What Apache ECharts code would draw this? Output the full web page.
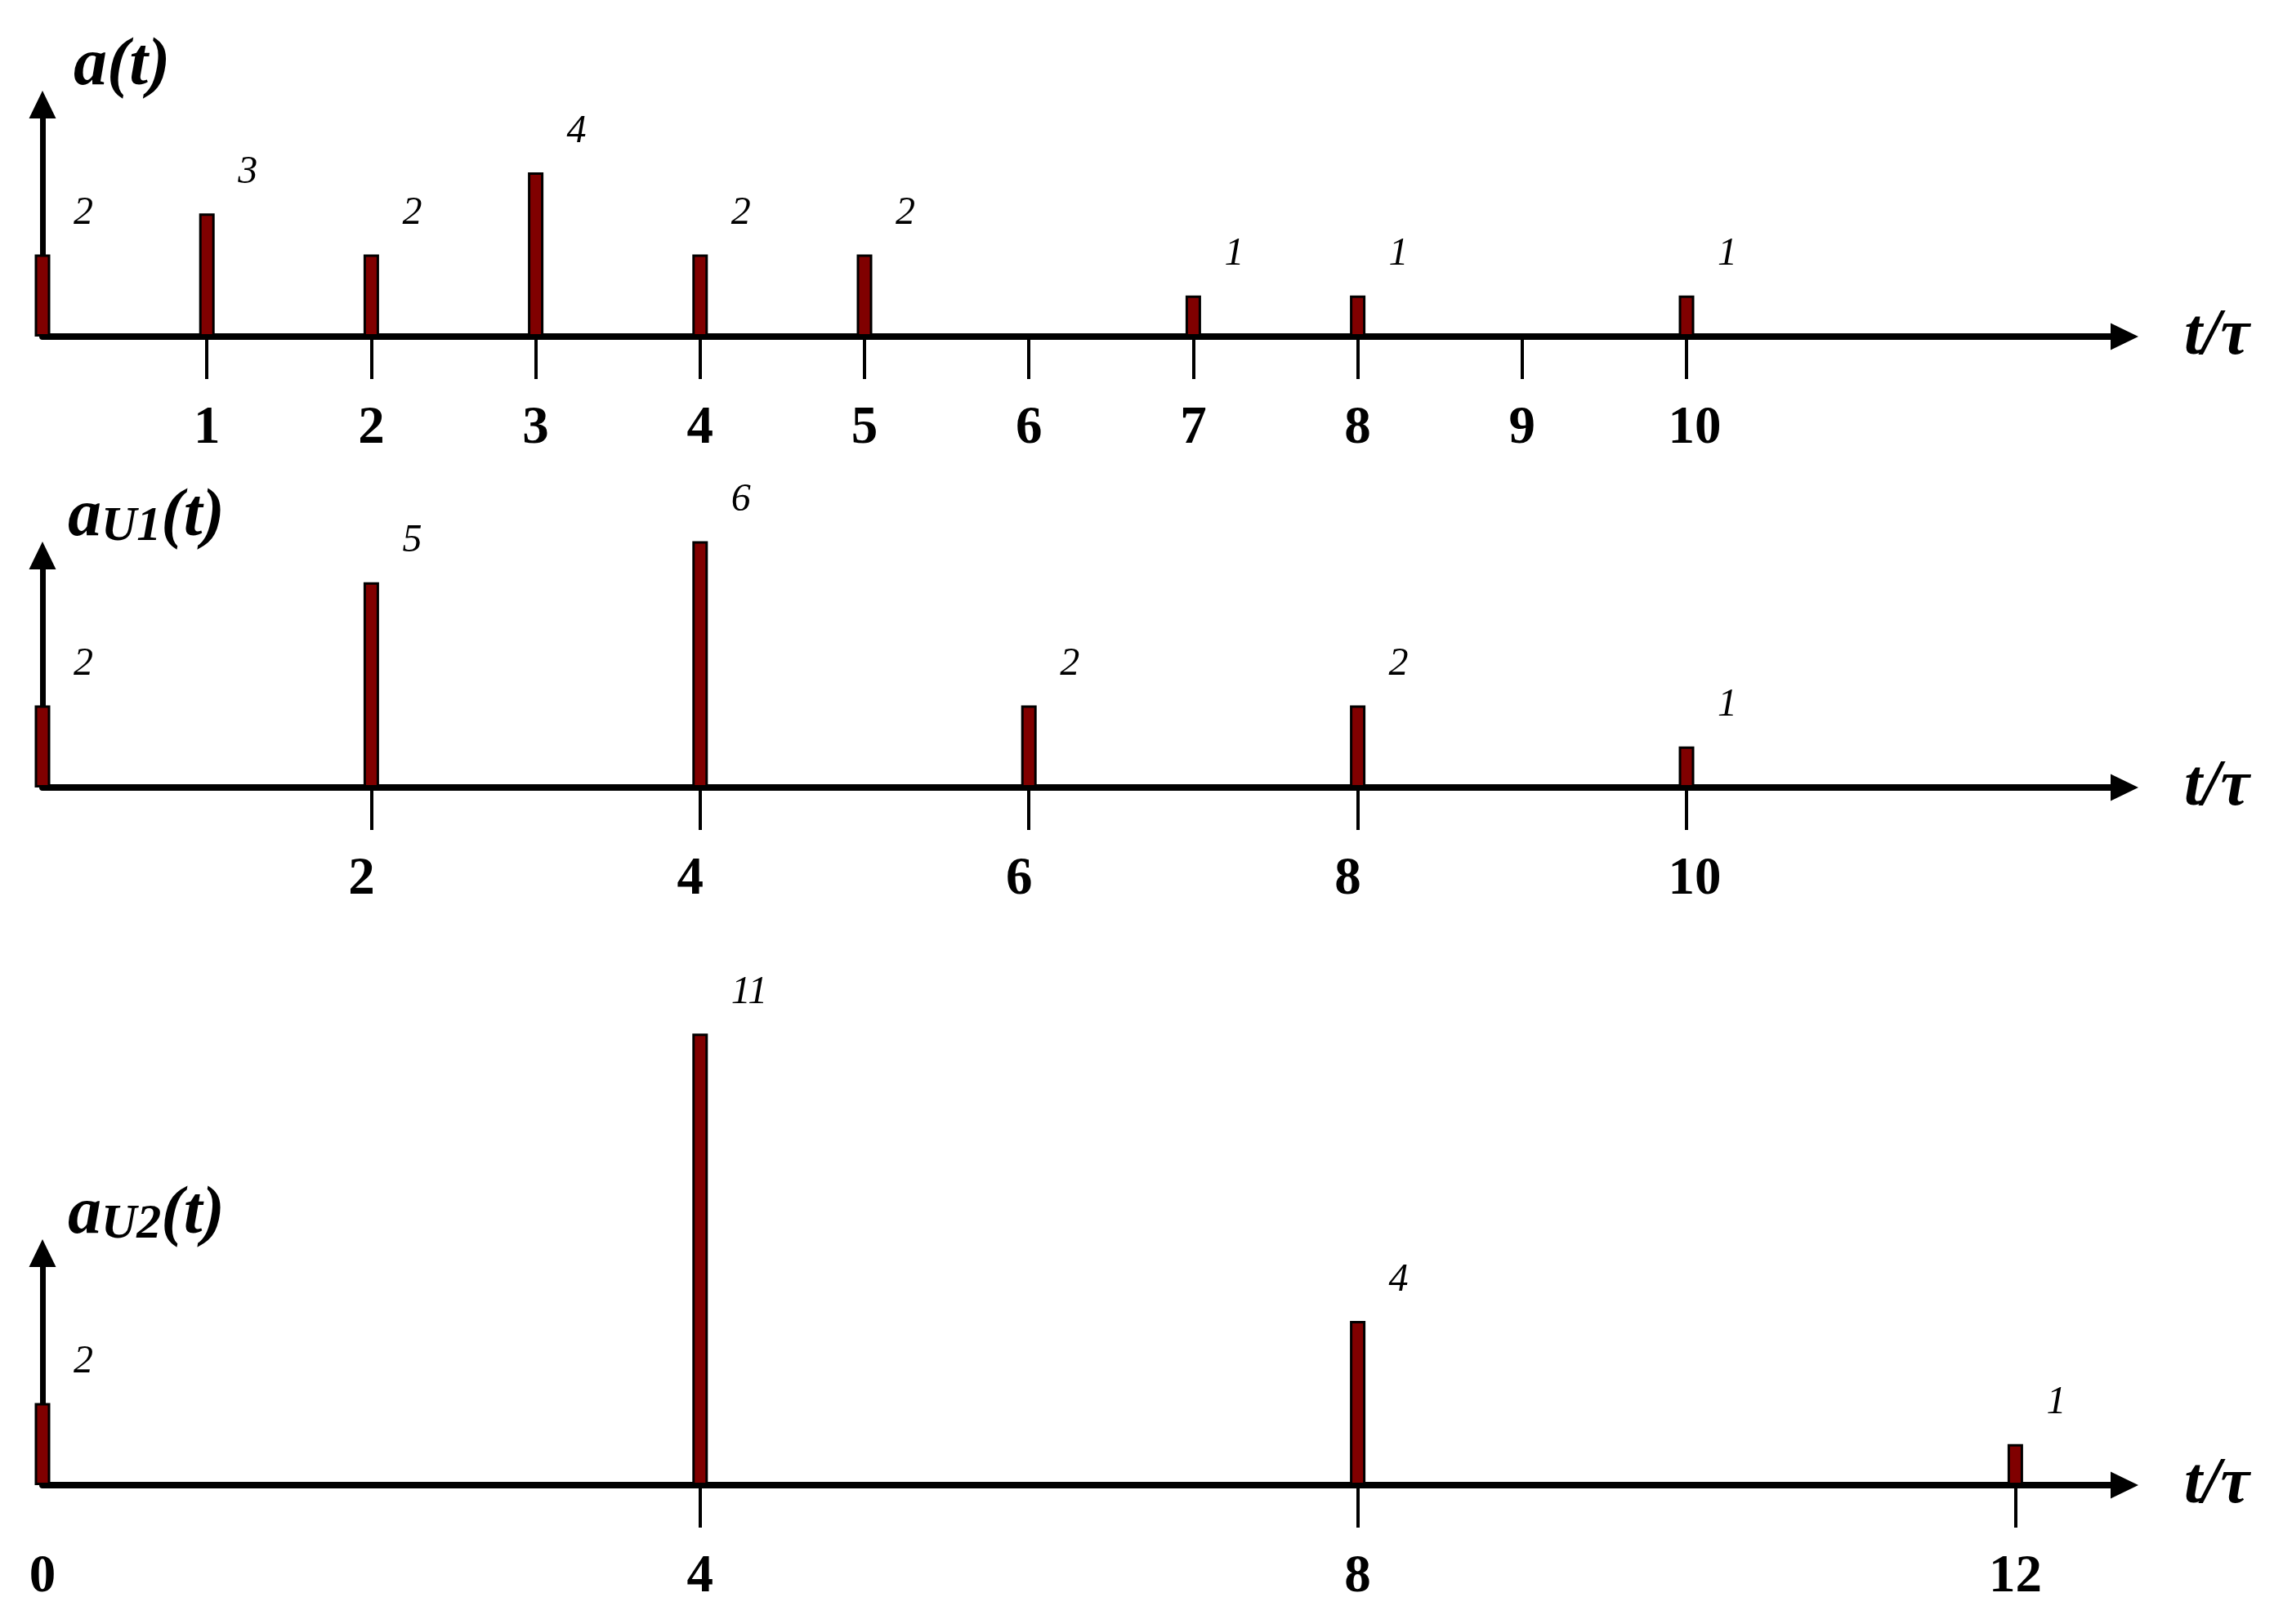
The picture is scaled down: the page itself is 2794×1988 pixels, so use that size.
<!DOCTYPE html>
<html>
<head>
<meta charset="utf-8">
<title>a(t), aU1(t), aU2(t)</title>
<script src="https://cdn.jsdelivr.net/npm/echarts@6/dist/echarts.min.js"></script>
<style>
  html, body { margin: 0; padding: 0; background: #fff; }
  #chart { width: 2794px; height: 1988px; }
</style>
</head>
<body>
<div id="chart"></div>
<script>
  // a(t)
  var tA = [0, 1, 2, 3, 4, 5, 7, 8, 10];
  var valA = [2, 3, 2, 4, 2, 2, 1, 1, 1];
  var ticksA = [1, 2, 3, 4, 5, 6, 7, 8, 9, 10];

  // aU1(t)
  var tU1 = [0, 2, 4, 6, 8, 10];
  var valU1 = [2, 5, 6, 2, 2, 1];
  var ticksU1 = [2, 4, 6, 8, 10];

  // aU2(t)
  var tU2 = [0, 4, 8, 12];
  var valU2 = [2, 11, 4, 1];
  var ticksU2 = [4, 8, 12];
  var labelsU2 = [0, 4, 8, 12];

  var SERIF = "'Liberation Serif', 'Times New Roman', serif";
  var axisY = [412, 964, 1818];   // x axis line positions
  var gridH = 284;
  var plotLeft = 52, plotW = 2548;
  var xMax = plotW / 201.2;
  var yMax = gridH / 50.25;

  function pairs(ts, vs) {
    return ts.map(function (t, i) { return [t, vs[i]]; });
  }

  // small hand shifts of tick labels like in the original figure
  function tickFmt(v) {
    var s = String(v);
    return s.length > 1 ? '{w|' + s + '}' : '{d|' + s + '}';
  }
  function tickRich(shiftOne, shiftTwo) {
    function pad(sh) { return sh >= 0 ? [0, 0, 0, 2 * sh] : [0, -2 * sh, 0, 0]; }
    var base = { fontFamily: SERIF, fontWeight: 'bold', fontSize: 65, color: '#000' };
    return {
      d: Object.assign({ padding: pad(shiftOne) }, base),
      w: Object.assign({ padding: pad(shiftTwo) }, base)
    };
  }

  function makeX(idx, ticks, labels, shiftOne, shiftTwo) {
    return {
      type: 'value', gridIndex: idx, min: 0, max: xMax,
      name: 't/τ', nameLocation: 'end', nameGap: 73,
      nameTextStyle: { fontFamily: SERIF, fontWeight: 'bold', fontStyle: 'italic', fontSize: 80, color: '#000', align: 'left', verticalAlign: 'middle' },
      axisLine: { show: true, symbol: ['none', 'triangle'], symbolSize: [33, 34], lineStyle: { color: '#000', width: 8 } },
      axisTick: { show: true, customValues: ticks, length: 52, lineStyle: { color: '#000', width: 4 } },
      axisLabel: {
        show: true, customValues: labels, margin: 113, verticalAlign: 'middle',
        formatter: tickFmt, rich: tickRich(shiftOne, shiftTwo),
        fontFamily: SERIF, fontWeight: 'bold', fontSize: 65, color: '#000'
      },
      splitLine: { show: false }
    };
  }

  function makeY(idx) {
    return {
      type: 'value', gridIndex: idx, min: 0, max: yMax,
      axisLine: { show: true, symbol: ['none', 'triangle'], symbolSize: [33, 34], lineStyle: { color: '#000', width: 7 } },
      axisTick: { show: false },
      axisLabel: { show: false },
      splitLine: { show: false }
    };
  }

  function makeBars(idx, ts, vs) {
    return {
      type: 'bar', xAxisIndex: idx, yAxisIndex: idx,
      data: pairs(ts, vs),
      barWidth: 19,
      clip: false,
      itemStyle: { color: '#800000', borderColor: '#000', borderWidth: 3 },
      label: {
        show: true, position: 'top', distance: 26, offset: [38, 0], align: 'left',
        formatter: function (p) { return p.value[1]; },
        fontFamily: SERIF, fontStyle: 'italic', fontSize: 48, color: '#000'
      }
    };
  }

  var mainStyle = { fontFamily: SERIF, fontWeight: 'bold', fontStyle: 'italic', fontSize: 82, color: '#000' };
  var subStyle = { fontFamily: SERIF, fontStyle: 'italic', fontSize: 60, lineHeight: 44, verticalAlign: 'bottom', color: '#000' };
  function makeTitle(text, left, top) {
    return {
      text: text, left: left, top: top,
      textStyle: { rich: { m: mainStyle, s: subStyle } }
    };
  }

  var chart = echarts.init(document.getElementById('chart'), null, { renderer: 'canvas' });
  chart.setOption({
    backgroundColor: '#fff',
    animation: false,
    title: [
      makeTitle('{m|a(t)}', 85, axisY[0] - 376),
      makeTitle('{m|a}{s|U1}{m|(t)}', 78, axisY[1] - 376),
      makeTitle('{m|a}{s|U2}{m|(t)}', 78, axisY[2] - 376)
    ],
    grid: axisY.map(function (y) {
      return { left: plotLeft, top: y - gridH, width: plotW, height: gridH, containLabel: false, outerBoundsMode: 'none' };
    }),
    xAxis: [
      makeX(0, ticksA, ticksA, 0, 10),
      makeX(1, ticksU1, ticksU1, -12, 10),
      makeX(2, ticksU2, labelsU2, 0, 0)
    ],
    yAxis: [makeY(0), makeY(1), makeY(2)],
    series: [
      makeBars(0, tA, valA),
      makeBars(1, tU1, valU1),
      makeBars(2, tU2, valU2)
    ]
  });
</script>
</body>
</html>
